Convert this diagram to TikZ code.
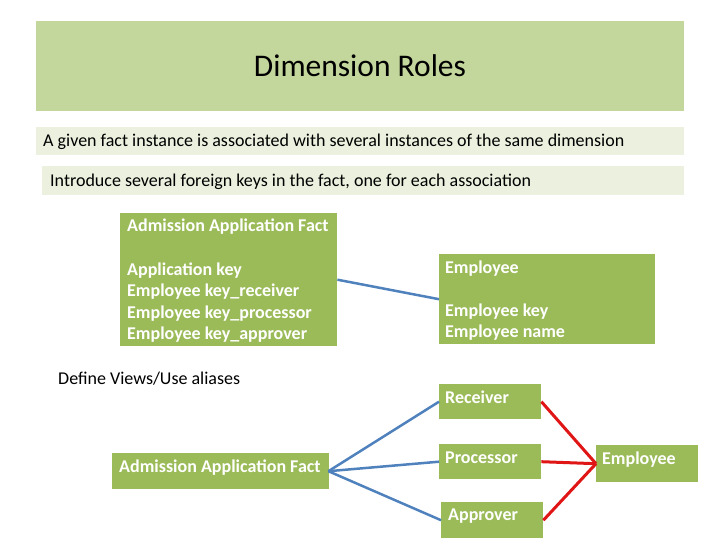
\documentclass[tikz,border=0pt]{standalone}
\usepackage{fontspec}
\setmainfont{Carlito}
\definecolor{titlegreen}{HTML}{C3D69B}
\definecolor{palegreen}{HTML}{EBF1DE}
\definecolor{boxgreen}{HTML}{9BBB59}
\definecolor{linkblue}{HTML}{4F81BD}
\definecolor{linkred}{HTML}{E01515}
\tikzset{
  x=1pt, y=-1pt,
  gbox/.style={draw=none, fill=boxgreen, inner sep=0pt, anchor=north west},
  wtext/.style={text=white, inner sep=0pt, anchor=base west, font=\fontsize{18}{21}\selectfont\bfseries},
  btext/.style={text=black, inner sep=0pt, anchor=base west, font=\fontsize{18}{21}\selectfont},
  bluelink/.style={draw=linkblue, line width=2.5pt},
  redlink/.style={draw=linkred, line width=3pt},
}
\begin{document}
\begin{tikzpicture}
\useasboundingbox (0,0) rectangle (720,540);
% header
\node[fill=titlegreen, inner sep=0pt, anchor=north west, minimum width=648pt, minimum height=90pt] (title) at (36,21) {};
\node[inner sep=0pt, anchor=base, font=\fontsize{31.5}{36}\selectfont] (titletext) at (360,77) {Dimension Roles};
\node[fill=palegreen, inner sep=0pt, anchor=north west, minimum width=648pt, minimum height=28pt] (line1) at (36,127) {};
\node[btext] (line1text) at (43,147) {A given fact instance is associated with several instances of the same dimension};
\node[fill=palegreen, inner sep=0pt, anchor=north west, minimum width=642pt, minimum height=29pt] (line2) at (42,166) {};
\node[btext] (line2text) at (50,187) {Introduce several foreign keys in the fact, one for each association};
% top diagram
\node[gbox, minimum width=217pt, minimum height=133pt] (fact) at (120,213) {};
\node[wtext] (f0) at (127,231) {Admission Application Fact};
\node[wtext] (f1) at (127,275) {Application key};
\node[wtext] (f2) at (127,296) {Employee key\_receiver};
\node[wtext] (f3) at (127,318) {Employee key\_processor};
\node[wtext] (f4) at (127,339) {Employee key\_approver};
\node[gbox, minimum width=216pt, minimum height=90pt] (emp) at (439,254) {};
\node[wtext] (e0) at (445,273) {Employee};
\node[wtext] (e1) at (445,316) {Employee key};
\node[wtext] (e2) at (445,337) {Employee name};
\draw[bluelink] (fact.east) -- (emp.west);
% bottom diagram
\node[btext] (define) at (58,384) {Define Views/Use aliases};
\node[gbox, minimum width=217pt, minimum height=36pt] (fact2) at (112,453) {};
\node[wtext] (fact2text) at (119,472) {Admission Application Fact};
\node[gbox, minimum width=102pt, minimum height=35pt] (rec) at (439,384) {};
\node[wtext] (rectext) at (445,403) {Receiver};
\node[gbox, minimum width=102pt, minimum height=35pt] (proc) at (439,444) {};
\node[wtext] (proctext) at (445,463) {Processor};
\node[gbox, minimum width=102pt, minimum height=36pt] (appr) at (441,502) {};
\node[wtext] (apprtext) at (448,520) {Approver};
\node[gbox, minimum width=102pt, minimum height=37pt] (emp2) at (596,445) {};
\node[wtext] (emp2text) at (602,464) {Employee};
\coordinate (hub) at ([xshift=-1pt]fact2.east);
\draw[bluelink] (hub) -- (rec.west);
\draw[bluelink] (hub) -- (proc.west);
\draw[bluelink] (hub) -- (appr.west);
\draw[redlink] (rec.east) -- (emp2.west);
\draw[redlink] (proc.east) -- (emp2.west);
\draw[redlink] (appr.east) -- (emp2.west);
\end{tikzpicture}
\end{document}
